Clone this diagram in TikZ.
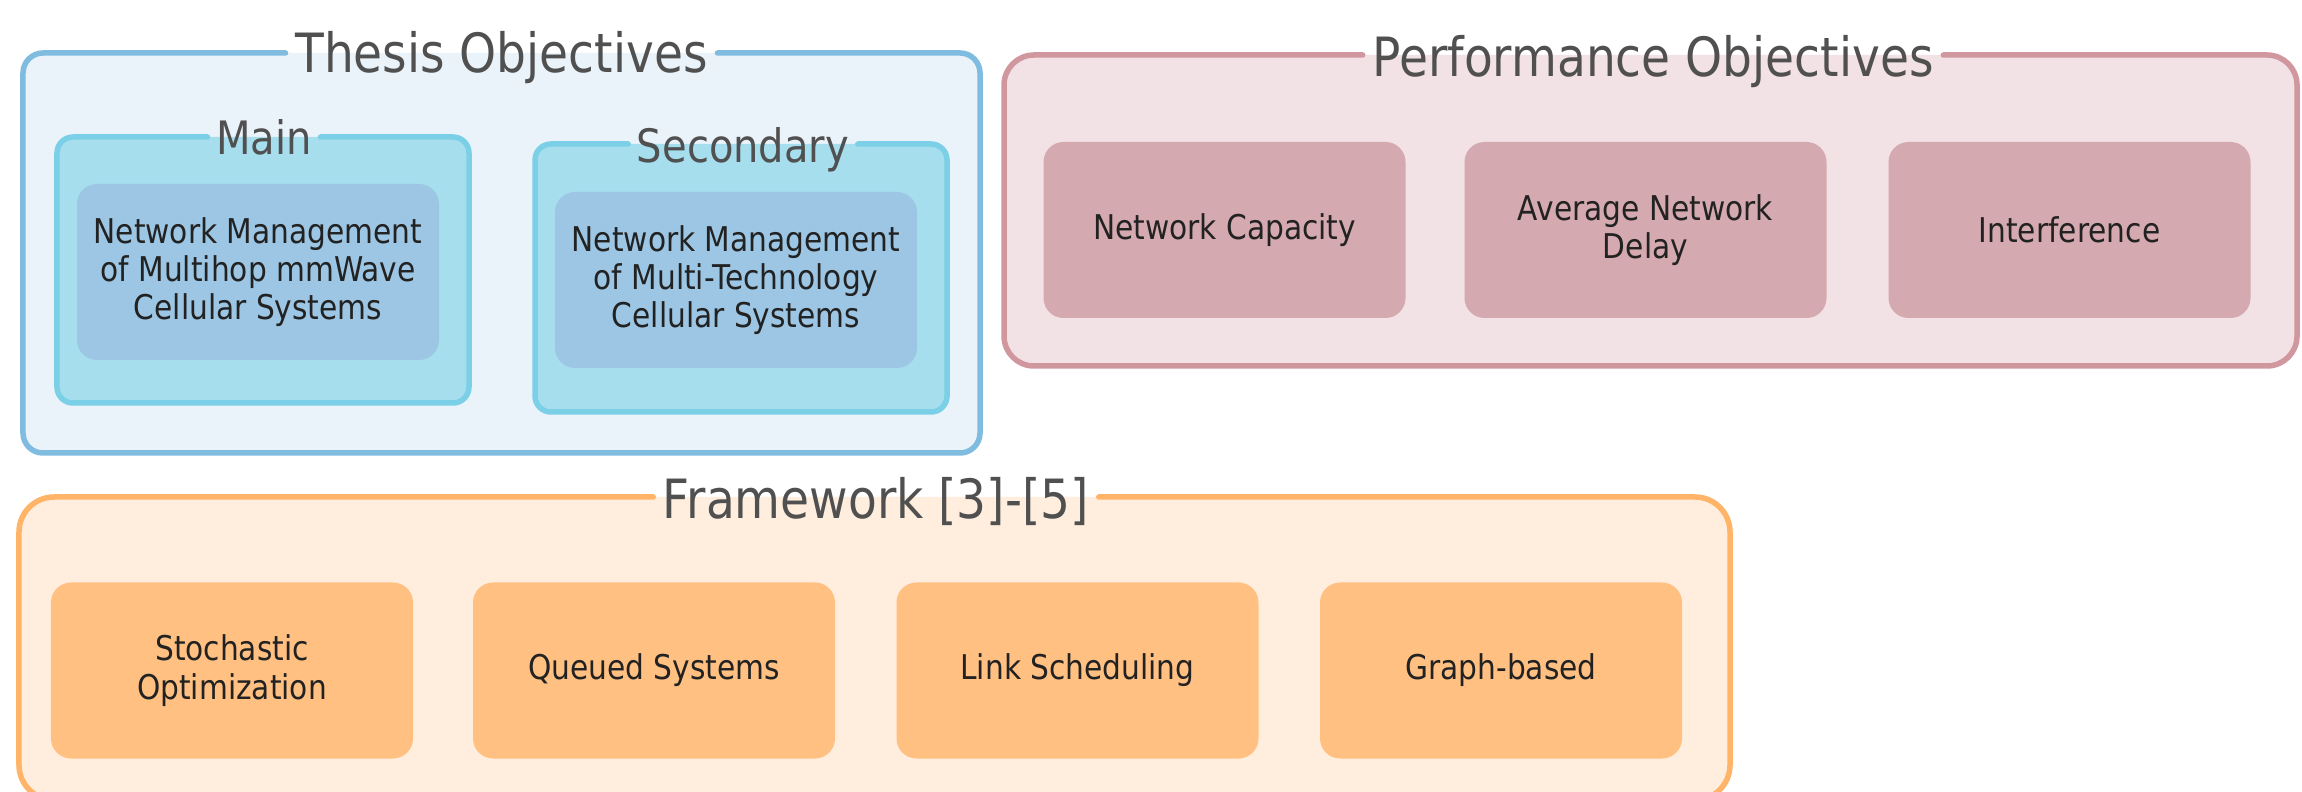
\documentclass[tikz,border=0pt]{standalone}
\usepackage{fontspec}
\setmainfont{DejaVu Sans}[FakeStretch=0.87]

\definecolor{thesisfill}{HTML}{EBF3FA}
\definecolor{thesisline}{HTML}{80BBE0}
\definecolor{subfill}{HTML}{A6DEEE}
\definecolor{subline}{HTML}{7BCFE6}
\definecolor{topicfill}{HTML}{9CC6E3}
\definecolor{perffill}{HTML}{F2E1E5}
\definecolor{perfline}{HTML}{D0979F}
\definecolor{perfbox}{HTML}{D4A9AF}
\definecolor{workfill}{HTML}{FFEEDD}
\definecolor{workline}{HTML}{FFB468}
\definecolor{workbox}{HTML}{FFC082}
\definecolor{titletext}{HTML}{505050}
\definecolor{boxtext}{HTML}{222222}

\tikzset{
  group/.style={rectangle, outer sep=0pt, inner sep=0pt},
  frame/.style={line width=0.55mm, line cap=round},
  bigtitle/.style={anchor=base, inner sep=0pt, text=titletext,
    font=\fontsize{15.4}{18}\selectfont},
  subtitle/.style={anchor=base, inner sep=0pt, text=titletext,
    font=\fontsize{13.1}{15}\selectfont},
  topic/.style={rectangle, rounded corners=2mm, outer sep=0pt,
    minimum width=36.2mm, minimum height=17.6mm, align=center,
    text=boxtext, font=\fontsize{9.7}{10.9}\selectfont},
}

\begin{document}
\begin{tikzpicture}[x=1mm, y=-1mm]
  \useasboundingbox (0,0) rectangle (230.2,79.2);

  \begin{scope}
    \node[group, fill=thesisfill, rounded corners=2mm,
      minimum width=95.7mm, minimum height=40mm] (thesis) at (50.15,25.3) {};
    \node[bigtitle] (thesistitle) at (50.15,7.3) {Thesis Objectives};
    \draw[frame, thesisline, rounded corners=2mm]
      ([xshift=0.9mm]thesistitle.east |- thesis.north) -- (thesis.north east)
      -- (thesis.south east) -- (thesis.south west) -- (thesis.north west)
      -- ([xshift=-0.9mm]thesistitle.west |- thesis.north);

    \node[group, fill=subfill, rounded corners=1.6mm,
      minimum width=41.2mm, minimum height=26.6mm] (main) at (26.3,27.0) {};
    \node[subtitle] (maintitle) at (26.4,15.5) {Main};
    \draw[frame, subline, rounded corners=1.6mm]
      ([xshift=0.8mm]maintitle.east |- main.north) -- (main.north east)
      -- (main.south east) -- (main.south west) -- (main.north west)
      -- ([xshift=-0.8mm]maintitle.west |- main.north);
    \node[topic, fill=topicfill] (maintopic) at (25.8,27.2)
      {Network Management\\of Multihop mmWave\\Cellular Systems};

    \node[group, fill=subfill, rounded corners=1.6mm,
      minimum width=41.2mm, minimum height=26.8mm] (secondary) at (74.1,27.8) {};
    \node[subtitle] (secondarytitle) at (74.3,16.3) {Secondary};
    \draw[frame, subline, rounded corners=1.6mm]
      ([xshift=0.8mm]secondarytitle.east |- secondary.north) -- (secondary.north east)
      -- (secondary.south east) -- (secondary.south west) -- (secondary.north west)
      -- ([xshift=-0.8mm]secondarytitle.west |- secondary.north);
    \node[topic, fill=topicfill] (secondarytopic) at (73.6,28.0)
      {Network Management\\of Multi-Technology\\Cellular Systems};
  \end{scope}

  \begin{scope}
    \node[group, fill=perffill, rounded corners=3mm,
      minimum width=129.3mm, minimum height=31.1mm] (perf) at (165.05,21.05) {};
    \node[bigtitle] (perftitle) at (165.3,7.7) {Performance Objectives};
    \draw[frame, perfline, rounded corners=3mm]
      ([xshift=0.9mm]perftitle.east |- perf.north) -- (perf.north east)
      -- (perf.south east) -- (perf.south west) -- (perf.north west)
      -- ([xshift=-0.9mm]perftitle.west |- perf.north);

    \node[topic, fill=perfbox] (capacity) at (122.45,23.0) {Network Capacity};
    \node[topic, fill=perfbox] (delay) at (164.55,23.0) {Average Network\\Delay};
    \node[topic, fill=perfbox] (interference) at (206.95,23.0) {Interference};
  \end{scope}

  \begin{scope}
    \node[group, fill=workfill, rounded corners=3.5mm,
      minimum width=171.1mm, minimum height=30.3mm] (work) at (87.45,64.85) {};
    \node[bigtitle] (worktitle) at (87.6,51.9) {Framework [3]-[5]};
    \draw[frame, workline, rounded corners=3.5mm]
      ([xshift=0.9mm]worktitle.east |- work.north) -- (work.north east)
      -- (work.south east) -- (work.south west) -- (work.north west)
      -- ([xshift=-0.9mm]worktitle.west |- work.north);

    \node[topic, fill=workbox] (stochastic) at (23.2,67.05) {Stochastic\\Optimization};
    \node[topic, fill=workbox] (queued) at (65.4,67.05) {Queued Systems};
    \node[topic, fill=workbox] (linksched) at (107.75,67.05) {Link Scheduling};
    \node[topic, fill=workbox] (graph) at (150.1,67.05) {Graph-based};
  \end{scope}
\end{tikzpicture}
\end{document}
